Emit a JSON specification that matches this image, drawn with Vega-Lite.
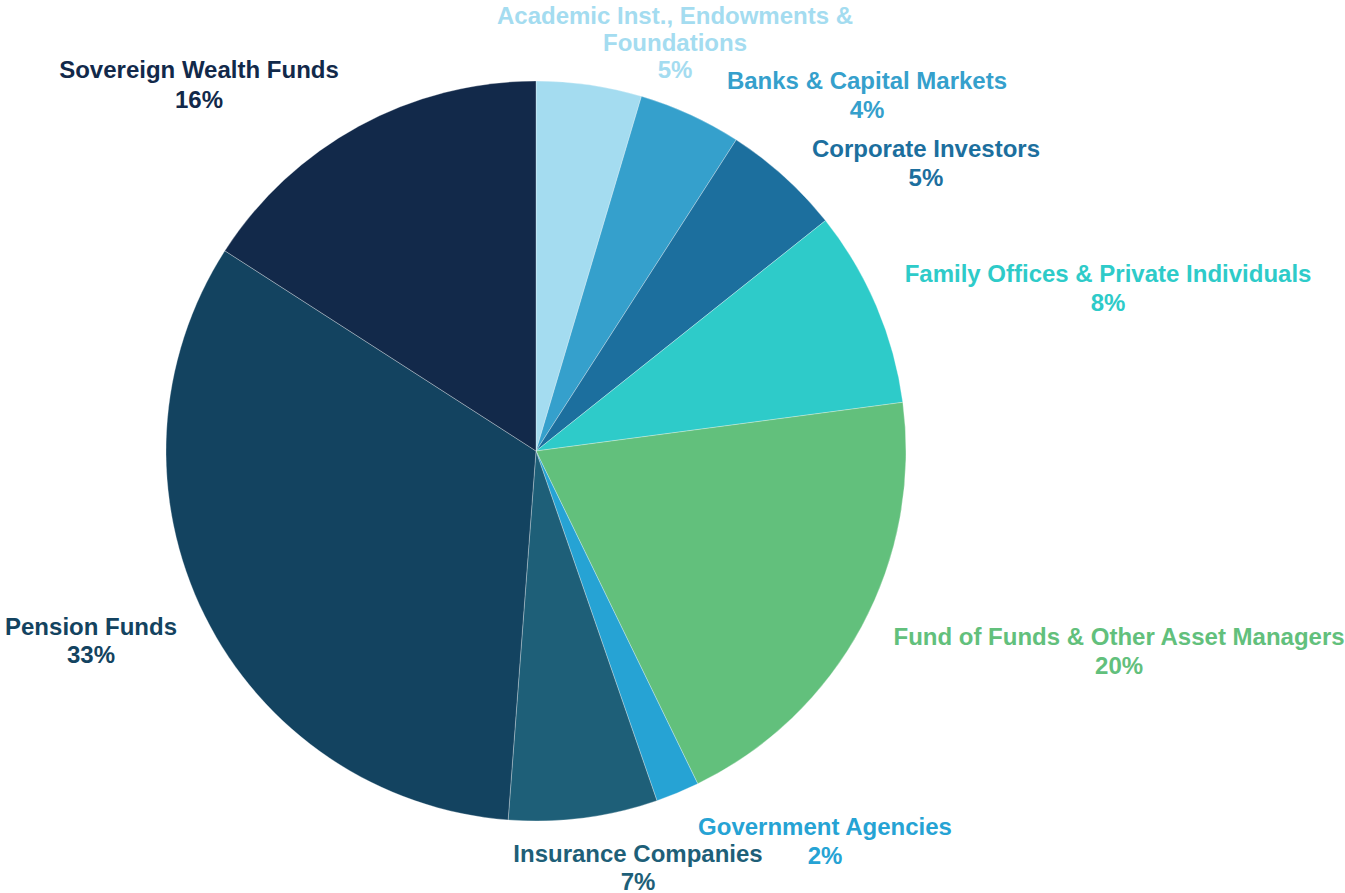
{
  "$schema": "https://vega.github.io/schema/vega-lite/v6.json",
  "width": 1072,
  "height": 884,
  "autosize": {"type": "none"},
  "padding": {"left": 0, "top": 9, "right": 273, "bottom": 0},
  "background": "white",
  "view": {"stroke": null},
  "data": {
    "values": [
      {"category": "Academic Inst., Endowments & Foundations", "value": 4.6, "label": "Academic Inst., Endowments &\nFoundations\n5%"},
      {"category": "Banks & Capital Markets", "value": 4.5, "label": "Banks & Capital Markets\n4%"},
      {"category": "Corporate Investors", "value": 5.2, "label": "Corporate Investors\n5%"},
      {"category": "Family Offices & Private Individuals", "value": 8.6, "label": "Family Offices & Private Individuals\n8%"},
      {"category": "Fund of Funds & Other Asset Managers", "value": 19.9, "label": "Fund of Funds & Other Asset Managers\n20%"},
      {"category": "Government Agencies", "value": 1.9, "label": "Government Agencies\n2%"},
      {"category": "Insurance Companies", "value": 6.5, "label": "Insurance Companies\n7%"},
      {"category": "Pension Funds", "value": 32.9, "label": "Pension Funds\n33%"},
      {"category": "Sovereign Wealth Funds", "value": 15.9, "label": "Sovereign Wealth Funds\n16%"}
    ]
  },
  "transform": [
    {"stack": "value", "groupby": [], "as": ["v0", "v1"]}
  ],
  "layer": [
    {
      "mark": {"type": "arc", "outerRadius": 370, "stroke": "white", "strokeWidth": 0.3},
      "encoding": {
        "theta": {"field": "v0", "type": "quantitative", "scale": {"domain": [0, 100]}},
        "theta2": {"field": "v1"},
        "color": {
          "field": "category",
          "type": "nominal",
          "legend": null,
          "scale": {
            "domain": ["Academic Inst., Endowments & Foundations", "Banks & Capital Markets", "Corporate Investors", "Family Offices & Private Individuals", "Fund of Funds & Other Asset Managers", "Government Agencies", "Insurance Companies", "Pension Funds", "Sovereign Wealth Funds"],
            "range": ["#a4dcf0", "#35a0cc", "#1c6f9e", "#2ecbc9", "#62c07c", "#26a3d4", "#1e5f78", "#134360", "#12294a"]
          }
        }
      }
    },
    {
      "transform": [{"filter": {"field": "category", "equal": "Academic Inst., Endowments & Foundations"}}],
      "mark": {"type": "text", "radius": 455.7, "thetaOffset": 0.3100, "font": "Liberation Sans", "fontSize": 24, "fontWeight": "bold", "align": "center", "baseline": "middle", "lineBreak": "\n", "lineHeight": 27},
      "encoding": {
        "theta": {"field": "v0", "type": "quantitative"},
        "color": {"field": "category", "type": "nominal", "legend": null},
        "text": {"field": "label"}
      }
    },
    {
      "transform": [{"filter": {"field": "category", "equal": "Banks & Capital Markets"}}],
      "mark": {"type": "text", "radius": 495.7, "thetaOffset": 0.4421, "font": "Liberation Sans", "fontSize": 24, "fontWeight": "bold", "align": "center", "baseline": "middle", "lineBreak": "\n", "lineHeight": 29},
      "encoding": {
        "theta": {"field": "v0", "type": "quantitative"},
        "color": {"field": "category", "type": "nominal", "legend": null},
        "text": {"field": "label"}
      }
    },
    {
      "transform": [{"filter": {"field": "category", "equal": "Corporate Investors"}}],
      "mark": {"type": "text", "radius": 492.6, "thetaOffset": 0.3417, "font": "Liberation Sans", "fontSize": 24, "fontWeight": "bold", "align": "center", "baseline": "middle", "lineBreak": "\n", "lineHeight": 29},
      "encoding": {
        "theta": {"field": "v0", "type": "quantitative"},
        "color": {"field": "category", "type": "nominal", "legend": null},
        "text": {"field": "label"}
      }
    },
    {
      "transform": [{"filter": {"field": "category", "equal": "Family Offices & Private Individuals"}}],
      "mark": {"type": "text", "radius": 598.5, "thetaOffset": 0.3738, "font": "Liberation Sans", "fontSize": 24, "fontWeight": "bold", "align": "center", "baseline": "middle", "lineBreak": "\n", "lineHeight": 29},
      "encoding": {
        "theta": {"field": "v0", "type": "quantitative"},
        "color": {"field": "category", "type": "nominal", "legend": null},
        "text": {"field": "label"}
      }
    },
    {
      "transform": [{"filter": {"field": "category", "equal": "Fund of Funds & Other Asset Managers"}}],
      "mark": {"type": "text", "radius": 612.3, "thetaOffset": 0.4423, "font": "Liberation Sans", "fontSize": 24, "fontWeight": "bold", "align": "center", "baseline": "middle", "lineBreak": "\n", "lineHeight": 29},
      "encoding": {
        "theta": {"field": "v0", "type": "quantitative"},
        "color": {"field": "category", "type": "nominal", "legend": null},
        "text": {"field": "label"}
      }
    },
    {
      "transform": [{"filter": {"field": "category", "equal": "Government Agencies"}}],
      "mark": {"type": "text", "radius": 475.0, "thetaOffset": -0.2016, "font": "Liberation Sans", "fontSize": 24, "fontWeight": "bold", "align": "center", "baseline": "middle", "lineBreak": "\n", "lineHeight": 29},
      "encoding": {
        "theta": {"field": "v0", "type": "quantitative"},
        "color": {"field": "category", "type": "nominal", "legend": null},
        "text": {"field": "label"}
      }
    },
    {
      "transform": [{"filter": {"field": "category", "equal": "Insurance Companies"}}],
      "mark": {"type": "text", "radius": 416.7, "thetaOffset": 0.0857, "font": "Liberation Sans", "fontSize": 24, "fontWeight": "bold", "align": "center", "baseline": "middle", "lineBreak": "\n", "lineHeight": 28},
      "encoding": {
        "theta": {"field": "v0", "type": "quantitative"},
        "color": {"field": "category", "type": "nominal", "legend": null},
        "text": {"field": "label"}
      }
    },
    {
      "transform": [{"filter": {"field": "category", "equal": "Pension Funds"}}],
      "mark": {"type": "text", "radius": 478.9, "thetaOffset": 1.1168, "font": "Liberation Sans", "fontSize": 24, "fontWeight": "bold", "align": "center", "baseline": "middle", "lineBreak": "\n", "lineHeight": 28},
      "encoding": {
        "theta": {"field": "v0", "type": "quantitative"},
        "color": {"field": "category", "type": "nominal", "legend": null},
        "text": {"field": "label"}
      }
    },
    {
      "transform": [{"filter": {"field": "category", "equal": "Sovereign Wealth Funds"}}],
      "mark": {"type": "text", "radius": 507.9, "thetaOffset": 0.2735, "font": "Liberation Sans", "fontSize": 24, "fontWeight": "bold", "align": "center", "baseline": "middle", "lineBreak": "\n", "lineHeight": 30},
      "encoding": {
        "theta": {"field": "v0", "type": "quantitative"},
        "color": {"field": "category", "type": "nominal", "legend": null},
        "text": {"field": "label"}
      }
    }
  ]
}
